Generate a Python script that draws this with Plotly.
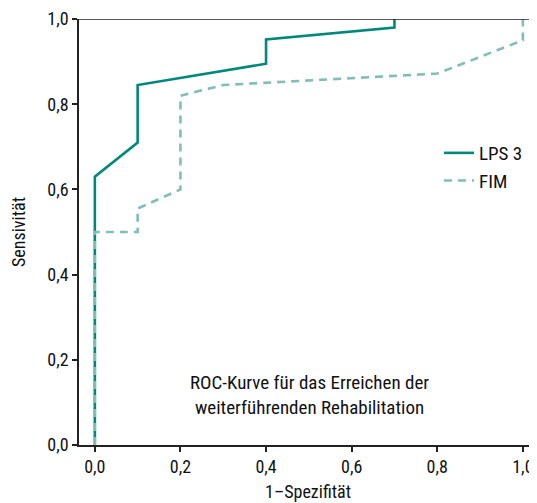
import plotly.graph_objects as go

lps_x = [0.0, 0.0, 0.1, 0.1, 0.4, 0.4, 0.7, 0.7]
lps_y = [0.0, 0.63, 0.71, 0.845, 0.895, 0.952, 0.98, 1.0]
fim_x = [0.0, 0.0, 0.1, 0.1, 0.2, 0.2, 0.3, 0.8, 1.0, 1.0]
fim_y = [0.0, 0.5, 0.5, 0.555, 0.6, 0.82, 0.845, 0.872, 0.95, 1.0]
tick_vals = [0.0, 0.2, 0.4, 0.6, 0.8, 1.0]
tick_text = ["0,0", "0,2", "0,4", "0,6", "0,8", "1,0"]

FONT = "Roboto Condensed, Liberation Sans Narrow, sans-serif"
FS = 18
FS2 = 19

fig = go.Figure()
fig.add_trace(go.Scatter(x=lps_x, y=lps_y, mode="lines", name="LPS 3",
                         line=dict(color="#00897a", width=2.6)))
fig.add_trace(go.Scatter(x=fim_x, y=fim_y, mode="lines", name="FIM",
                         line=dict(color="#80bfb2", width=2.6, dash="8px,6px")))

axis_common = dict(showgrid=False, zeroline=False, showline=True, linecolor="#222",
                   linewidth=1.5, ticks="outside", ticklen=5, tickwidth=1.5,
                   tickcolor="#222", tickvals=tick_vals, ticktext=tick_text,
                   automargin=False,
                   tickfont=dict(size=FS, color="#111", family=FONT))

# page body adds an 8px offset; compensate in size / margins
fig.update_layout(
    width=529, height=495,
    margin=dict(l=71, r=0, t=11, b=58),
    paper_bgcolor="white", plot_bgcolor="white",
    font=dict(family=FONT, color="#111", size=FS),
    xaxis=dict(range=[-0.037, 1.033], title=dict(text="1–Spezifität", standoff=9,
               font=dict(size=FS)), **axis_common),
    yaxis=dict(range=[0, 1.0], title=dict(text="Sensivität", standoff=20,
               font=dict(size=FS)), **axis_common),
    legend=dict(x=0.786, y=0.73, xanchor="left", yanchor="top",
                bgcolor="rgba(0,0,0,0)", font=dict(size=FS2), tracegroupgap=0,
                itemwidth=30),
    showlegend=True,
    annotations=[dict(x=0.502, y=0.1185, xref="x", yref="y", showarrow=False,
                      text="ROC-Kurve für das Erreichen der<br>weiterführenden Rehabilitation",
                      font=dict(size=FS2), align="center")],
    shapes=[dict(type="line", xref="paper", yref="y", x0=0, x1=1, y0=1.0, y1=1.0,
                 line=dict(color="#222", width=1.5), layer="above")],
)

fig.write_html("out.html")
